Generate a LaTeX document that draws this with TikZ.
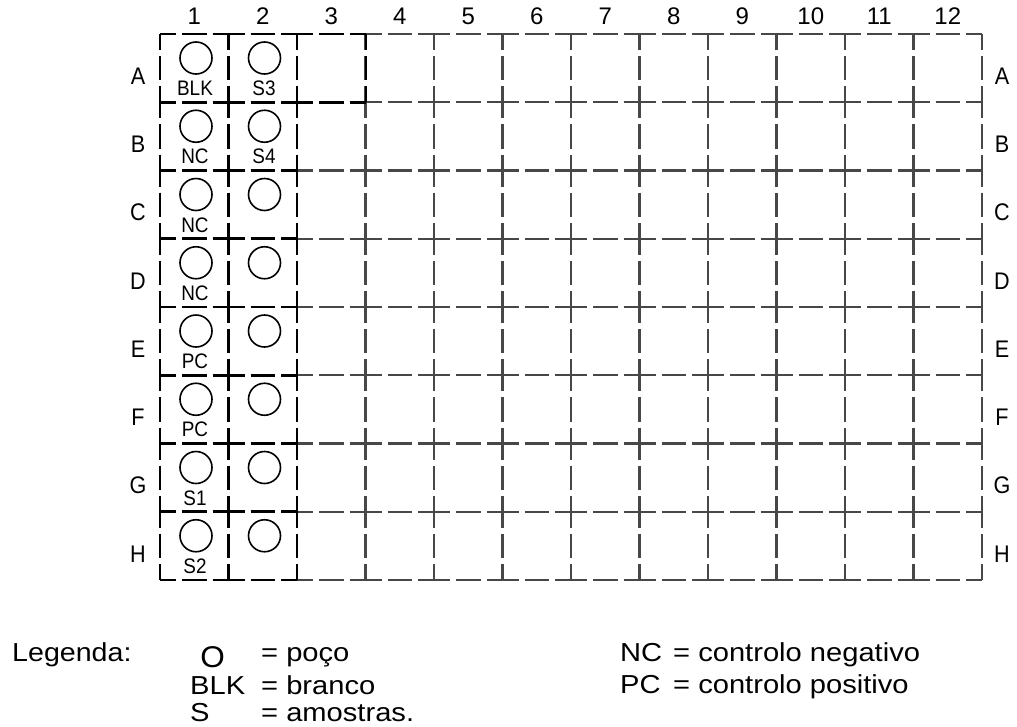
\documentclass[tikz,border=0pt]{standalone}
\usepackage{fontspec}
\setmainfont{Liberation Sans}
\usepackage{graphicx}
\newcommand{\hsc}[2]{\scalebox{#1}[1]{#2}}
\begin{document}
\begin{tikzpicture}[x=1pt,y=-1pt,
  gl/.style={line width=2.2pt, draw=black!72},
  thk/.style={line width=2.7pt, draw=black},
  hdash/.style={dash pattern=on 32pt off 6pt on 24.5pt off 6pt, dash phase=16pt},
  vdash/.style={dash pattern=on 32pt off 6pt on 24.25pt off 6pt, dash phase=16pt},
  well/.style={circle, draw, line width=1.6pt, minimum size=32pt, inner sep=0pt},
  colnum/.style={inner sep=0pt, font=\fontsize{24}{24}\selectfont},
  rowlet/.style={inner sep=0pt, font=\fontsize{24}{24}\selectfont},
  celltxt/.style={inner sep=0pt, anchor=base, font=\fontsize{21}{21}\selectfont},
  legtxt/.style={inner sep=0pt, anchor=base west, font=\fontsize{26}{26}\selectfont},
]
\useasboundingbox (0,0) rectangle (1017,726);
% grid (thin)
\foreach \i in {0,...,12}
  \draw[gl,vdash] ({160+68.5*\i},34) -- ({160+68.5*\i},580);
\foreach \j in {0,...,8}
  \draw[gl,hdash] (160,{34+68.25*\j}) -- (982,{34+68.25*\j});
% thick template outline (columns 1-2 and A3)
\foreach \j in {0,...,8}
  \draw[thk,hdash] (160,{34+68.25*\j}) -- (297,{34+68.25*\j});
\draw[thk,hdash] (297,34) -- (366,34);
\draw[thk,hdash] (297,102.25) -- (366,102.25);
\foreach \i in {0,1,2}
  \draw[thk,vdash] ({160+68.5*\i},34) -- ({160+68.5*\i},580);
\draw[thk,vdash] (366,34) -- (366,102.25);
% column numbers
\foreach \i in {1,...,12}
  \node[colnum] (col\i) at ({160+68.5*(\i-0.5)},16.5) {\i};
% row letters
\foreach \r [count=\k] in {A,B,C,D,E,F,G,H} {
  \node[rowlet] (L\r) at (138,{34+68.25*(\k-0.5)+8}) {\hsc{0.9}{\r}};
  \node[rowlet] (R\r) at (1002,{34+68.25*(\k-0.5)+8}) {\hsc{0.9}{\r}};
}
% wells, column 1 with labels
\foreach \r/\t [count=\k] in {A/BLK,B/NC,C/NC,D/NC,E/PC,F/PC,G/S1,H/S2} {
  \node[well] (w\r1) at (196,{34+68.25*(\k-1)+24}) {};
  \node[celltxt] (t\r1) at (195,{34+68.25*(\k-1)+61.5}) {\hsc{0.9}{\t}};
}
% wells, column 2
\foreach \r [count=\k] in {A,B,C,D,E,F,G,H}
  \node[well] (w\r2) at (264.5,{34+68.25*(\k-1)+24}) {};
\node[celltxt] (tA2) at (264,95.5) {\hsc{0.9}{S3}};
\node[celltxt] (tB2) at (264,163.75) {\hsc{0.9}{S4}};
% legend
\node[legtxt] (leg) at (12,661.7) {\hsc{1.1}{Legenda:}};
\node[inner sep=0pt, anchor=base, font=\fontsize{30}{30}\selectfont] (legO) at (212.5,667) {\hsc{1.05}{O}};
\node[legtxt] (l1) at (261,661.7) {\hsc{1.12}{= poço}};
\node[legtxt] (l2a) at (190,694.3) {\hsc{1.12}{BLK}};
\node[legtxt] (l2) at (261,694.3) {\hsc{1.12}{= branco}};
\node[legtxt] (l3a) at (190,721.7) {\hsc{1.12}{S}};
\node[legtxt] (l3) at (261,721.7) {\hsc{1.12}{= amostras.}};
\node[legtxt] (r1a) at (620,661.7) {\hsc{1.12}{NC}};
\node[legtxt] (r1) at (673,661.7) {\hsc{1.12}{= controlo negativo}};
\node[legtxt] (r2a) at (620,693.3) {\hsc{1.12}{PC}};
\node[legtxt] (r2) at (673,693.3) {\hsc{1.12}{= controlo positivo}};
\end{tikzpicture}
\end{document}
